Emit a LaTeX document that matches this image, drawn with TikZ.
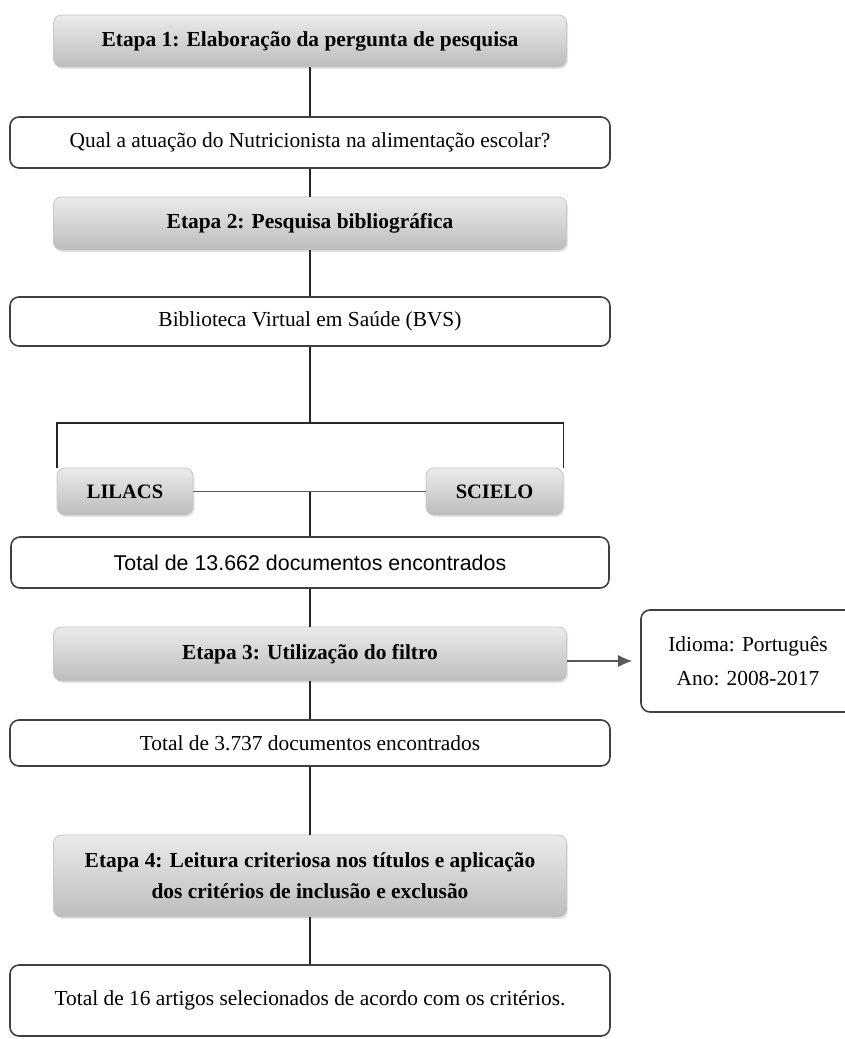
\documentclass[tikz,border=0pt]{standalone}
\usepackage{fontspec}
\setmainfont{Liberation Serif}
\newfontfamily\arialfont{Liberation Sans}
\usetikzlibrary{arrows.meta,shadows}
\begin{document}
\begin{tikzpicture}[x=1pt,y=-1pt,
 greybox/.style={rounded corners=8pt, draw=black!22, line width=0.8pt, top color=black!8, bottom color=black!26,
   drop shadow={shadow xshift=1.5pt,shadow yshift=-2pt,fill=black!18},
   font=\fontsize{21.4}{31}\selectfont\bfseries, align=center, inner sep=0pt, text=black},
 whitebox/.style={rounded corners=9pt, draw=black!75, line width=1.6pt, fill=white,
   font=\fontsize{21.4}{31}\selectfont, align=center, inner sep=0pt, text=black},
 conn/.style={line width=1.8pt, draw=black!85},
 thinline/.style={line width=1.1pt, draw=black!65},
]
\useasboundingbox (0,0) rectangle (845,1039);
\clip (0,0) rectangle (845,1039);
\fill[white] (0,0) rectangle (845,1039);

\node[greybox, minimum width=513pt, minimum height=52pt] (E1) at (310,41) {Etapa 1: Elaboração da pergunta de pesquisa};
\node[whitebox, minimum width=600pt, minimum height=51pt] (Q) at (310,142.5) {Qual a atuação do Nutricionista na alimentação escolar?};
\node[greybox, minimum width=513pt, minimum height=53pt] (E2) at (310,223.5) {Etapa 2: Pesquisa bibliográfica};
\node[whitebox, minimum width=600pt, minimum height=49pt] (BVS) at (310,321.5) {Biblioteca Virtual em Saúde (BVS)};
\node[greybox, minimum width=136pt, minimum height=47pt, font=\fontsize{20.5}{25}\selectfont\bfseries] (LIL) at (125,491.5) {LILACS};
\node[greybox, minimum width=137pt, minimum height=47pt, font=\fontsize{20.5}{25}\selectfont\bfseries] (SCI) at (494.5,491.5) {SCIELO};
\node[whitebox, minimum width=598pt, minimum height=51pt, font=\fontsize{21.4}{26}\arialfont] (T1) at (310,562.5) {Total de 13.662 documentos encontrados};
\node[greybox, minimum width=513pt, minimum height=54pt] (E3) at (310,654) {Etapa 3: Utilização do filtro};
\node[whitebox, minimum width=214pt, minimum height=102pt, font=\fontsize{21.4}{34}\selectfont] (ID) at (748,661) {Idioma: Português\\Ano: 2008-2017};
\node[whitebox, minimum width=600pt, minimum height=46pt] (T2) at (310,743) {Total de 3.737 documentos encontrados};
\node[greybox, minimum width=513pt, minimum height=82pt] (E4) at (310,876) {Etapa 4: Leitura criteriosa nos títulos e aplicação\\dos critérios de inclusão e exclusão};
\node[whitebox, minimum width=600pt, minimum height=71pt] (T3) at (310,1000.5) {Total de 16 artigos selecionados de acordo com os critérios.};

\coordinate (bar) at (310,423);
\draw[conn] (E1) -- (Q);
\draw[conn] (Q) -- (E2);
\draw[conn] (E2) -- (BVS);
\draw[conn] (BVS) -- (bar);
\draw[conn] (LIL.north west) -- (LIL.north west |- bar) -- (SCI.north east |- bar) -- (SCI.north east);
\draw[thinline] (LIL) -- (SCI);
\draw[conn] (T1) -- (T1 |- LIL);
\draw[conn] (T1) -- (E3);
\draw[conn] (E3) -- (T2);
\draw[conn] (T2) -- (E4);
\draw[conn] (E4) -- (T3);
\draw[thinline, -{Latex[length=14pt,width=12pt]}, shorten >=8pt] (E3.east |- ID.west) -- (ID.west);
\end{tikzpicture}
\end{document}
